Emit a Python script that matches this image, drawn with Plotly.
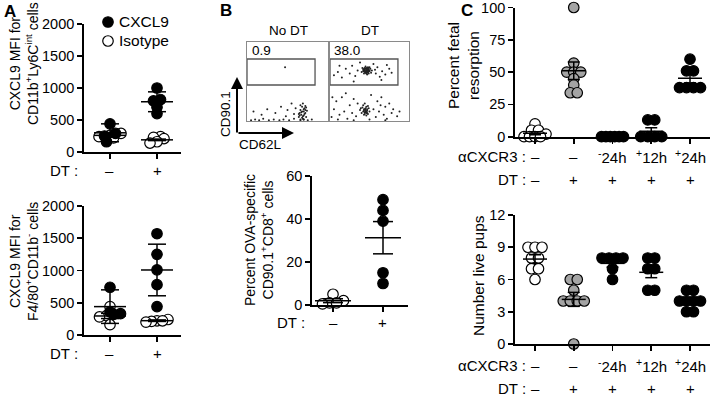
import plotly.graph_objects as go

W, H = 712, 403
FONT = "Liberation Sans, Arial, Helvetica, sans-serif"
GRAY = "#a4a4a4"

# ---------------- data ----------------
dt_groups = ["–", "+"]
# Panel A top: CXCL9 MFI for CD11b+Ly6Cint cells
a1_cxcl9 = [[440, 290, 250, 160], [1000, 820, 800, 700, 600]]
a1_iso = [[290, 260, 240, 220], [240, 230, 210, 160, 140]]
a1_cxcl9_mean = [300, 785]
a1_cxcl9_err = [140, 155]
a1_iso_mean = [260, 190]
a1_iso_err = [30, 12]
# Panel A bottom: CXCL9 MFI for F4/80+CD11b- cells
a2_cxcl9 = [[740, 360, 330, 320], [1570, 1250, 1010, 780, 440]]
a2_iso = [[440, 300, 280, 160], [240, 220, 220, 210, 200]]
a2_cxcl9_mean = [440, 1008]
a2_cxcl9_err = [260, 400]
a2_iso_mean = [295, 222]
a2_iso_err = [40, 12]
# Panel B flow plots (CD62L vs CD90.1, arbitrary 0-100 units)
flow_titles = ["No DT", "DT"]
flow_gate_pct = ["0.9", "38.0"]
nodt_x = [5, 10, 15, 20, 27, 33, 40, 45, 52, 58, 66, 70, 75, 80, 8, 18, 25, 35, 42, 48, 50, 55, 58, 60,
          64, 65, 66, 67, 68, 69, 70, 70, 71, 72, 73, 74, 66, 69, 72, 47,
          65, 67, 68, 70, 71, 73, 66, 69, 72, 68, 70, 64]
nodt_y = [1, 2, 1, 3, 1, 2, 1, 2, 1, 3, 1, 2, 1, 2, 12, 8, 15, 10, 18, 6, 14, 22, 9, 16,
          5, 10, 14, 8, 18, 3, 12, 7, 16, 10, 5, 13, 20, 22, 19, 68,
          7, 11, 4, 15, 9, 17, 2, 6, 14, 12, 2, 9]
dt_x = [40, 42, 43, 44, 45, 46, 46, 47, 48, 48, 49, 49, 50, 51, 52, 45, 47, 43, 50, 44, 41, 53, 46, 48, 47,
        44, 45, 46, 47, 48, 49, 45, 46, 47, 48, 42, 50, 43, 49, 46, 47, 44, 48,
        5, 10, 15, 20, 25, 28, 32, 35, 58, 60, 63, 66, 70, 75, 30, 55, 65, 72, 12, 38, 57, 78,
        38, 40, 41, 42, 43, 44, 45, 46, 47, 48, 49, 50, 42, 46, 44, 48, 39, 47,
        43, 44, 45, 46, 45, 44, 47, 43, 46, 45,
        2, 5, 8, 12, 15, 18, 22, 25, 28, 30, 33, 35, 55, 58, 60, 62, 65, 68, 70, 72, 75, 78, 80, 3, 20,
        52, 64, 10, 30, 50, 70, 85, 88]
dt_y = [62, 65, 60, 67, 63, 61, 66, 64, 62, 68, 60, 65, 63, 66, 61, 69, 59, 64, 68, 62, 67, 64, 64, 65, 62,
        64, 66, 63, 65, 64, 63, 61, 67, 66, 61, 63, 64, 66, 67, 60, 63, 65, 66,
        58, 62, 55, 66, 60, 70, 57, 64, 60, 68, 56, 63, 59, 66, 50, 72, 52, 71, 70, 74, 65, 61,
        14, 10, 17, 12, 8, 15, 11, 18, 13, 9, 16, 12, 20, 7, 22, 19, 16, 10,
        13, 11, 14, 12, 16, 9, 15, 15, 10, 12,
        5, 15, 25, 8, 30, 12, 3, 20, 10, 28, 6, 22, 15, 5, 25, 12, 30, 8, 18, 3, 22, 10, 15, 30, 35,
        33, 20, 2, 1, 2, 1, 6, 12]
# Panel B bottom: percent OVA-specific CD90.1+CD8+ cells
b_vals = [[5, 2, 1, 1, 0.5], [49, 44, 39, 15, 10]]
b_mean = [2.0, 31.3]
b_err = [0.9, 7.5]
# Panel C
c_cxcr3 = ["–", "–", "<sup>-</sup>24h", "<sup>+</sup>12h", "<sup>+</sup>24h"]
c_dt = ["–", "+", "+", "+", "+"]
c_fill = ["white", GRAY, "black", "black", "black"]
ct_vals = [[10, 5, 5, 2, 0, 0, 0, 0], [100, 57, 50, 50, 50, 45, 40, 34, 34], [0, 0, 0, 0, 0, 0],
           [13, 13, 0, 0, 0, 0], [60, 51, 51, 38, 38, 38, 38]]
ct_mean = [2.7, 51, 0, 4.3, 45.2]
ct_err = [1.2, 6.8, 0, 2.6, 3.6]
cb_vals = [[9, 9, 9, 8, 8, 7, 7, 6], [6, 6, 5, 4, 4, 4, 4, 0], [8, 8, 8, 8, 7, 6],
           [8, 8, 7, 7, 5, 5], [5, 5, 4, 4, 4, 4, 3, 3]]
cb_mean = [7.9, 4.15, 7.5, 6.67, 4.0]
cb_err = [0.4, 0.65, 0.35, 0.5, 0.3]


# ---------------- helpers ----------------
def px(x):
    return x / W


def py(y):
    return 1 - y / H


def swarm(vals, ypu, xpu, row_px=5.0, sp=7.0, maxw=22.0):
    idx = sorted(range(len(vals)), key=lambda i: vals[i])
    off = [0.0] * len(vals)
    rows = []
    for i in idx:
        if rows and (vals[i] - vals[rows[-1][0]]) * ypu < row_px:
            rows[-1].append(i)
        else:
            rows.append([i])
    for r in rows:
        n = len(r)
        if n > 1:
            s = min(sp, maxw / (n - 1))
            for k, i in enumerate(r):
                off[i] = (k - (n - 1) / 2) * s / xpu
    return off


fig = go.Figure()
annotations = []
shapes = []


def ann(text, x, y, size=14, xa="center", ya="middle", angle=0, **kw):
    annotations.append(dict(text=text, x=px(x), y=py(y), xref="paper", yref="paper",
                            xanchor=xa, yanchor=ya, textangle=angle, showarrow=False,
                            font=dict(family=FONT, size=size, color="black"), **kw))


def dot_axes(n, xdom, ydom, xr, yr, yticks):
    ax = dict(domain=[px(xdom[0]), px(xdom[1])], range=xr, showline=True, linecolor="black",
              linewidth=1.8, ticks="outside", ticklen=5, tickwidth=1.8, tickcolor="black",
              showgrid=False, zeroline=False, showticklabels=False,
              anchor="y" + ("" if n == 1 else str(n)))
    ay = dict(domain=[py(ydom[1]), py(ydom[0])], range=yr, showline=True, linecolor="black",
              linewidth=1.8, ticks="outside", ticklen=5, tickwidth=1.8, tickcolor="black",
              showgrid=False, zeroline=False, tickvals=yticks, ticklabeloverflow="allow",
              tickfont=dict(family=FONT, size=14.5, color="black"),
              anchor="x" + ("" if n == 1 else str(n)))
    return ax, ay


layout_axes = {}

# axis geometry (pixel positions)
A_X = (84, 181, 110, 47)
B_X = (312, 408, 333, 50)
C_X = (515, 710, 535, 38.75)
panels = {
    1: (A_X, (24, 152), [0, 2000], [0, 500, 1000, 1500, 2000]),
    2: (A_X, (206, 335), [0, 2000], [0, 500, 1000, 1500, 2000]),
    5: (B_X, (176, 305), [0, 60], [0, 20, 40, 60]),
    6: (C_X, (7.5, 136.7), [0, 100], [0, 25, 50, 75, 100]),
    7: (C_X, (215, 344), [0, 12], [0, 3, 6, 9, 12]),
}
scale = {}
for n, (xg, yg, yr, yt) in panels.items():
    L, R, c0, s = xg
    xr = [(L - c0) / s, (R - c0) / s]
    ax, ay = dot_axes(n, (L, R), yg, xr, yr, yt)
    ax["tickvals"] = [i for i in range(0, 6) if i <= xr[1]]
    key = "" if n == 1 else str(n)
    layout_axes["xaxis" + key] = ax
    layout_axes["yaxis" + key] = ay
    scale[n] = (s, (yg[1] - yg[0]) / (yr[1] - yr[0]))

# flow axes 3 and 4
for n, (x0, x1) in zip([3, 4], [(247, 328), (330, 409)]):
    key = str(n)
    common = dict(showline=True, mirror=True, linecolor="#8a8a8a", linewidth=1, ticks="",
                  showticklabels=False, showgrid=False, zeroline=False)
    layout_axes["xaxis" + key] = dict(domain=[px(x0), px(x1)], range=[0, 100], anchor="y" + key, **common)
    layout_axes["yaxis" + key] = dict(domain=[py(121), py(42)], range=[0, 100], anchor="x" + key, **common)
# overlay axis for legend symbols (pixel space)
layout_axes["xaxis8"] = dict(domain=[0, 1], range=[0, W], visible=False, anchor="y8")
layout_axes["yaxis8"] = dict(domain=[0, 1], range=[H, 0], visible=False, anchor="x8")


def mean_err_trace(n, means, errs, mw_px, cw_px):
    s, _ = scale[n]
    xs, ys = [], []
    for g, (m, e) in enumerate(zip(means, errs)):
        mw, cw = mw_px / s, cw_px / s
        xs += [g - mw, g + mw, None]
        ys += [m, m, None]
        if e > 0:
            xs += [g, g, None, g - cw, g + cw, None, g - cw, g + cw, None]
            ys += [m - e, m + e, None, m + e, m + e, None, m - e, m - e, None]
    key = "" if n == 1 else str(n)
    return go.Scatter(x=xs, y=ys, mode="lines", line=dict(color="black", width=1.5),
                      xaxis="x" + key, yaxis="y" + key, showlegend=False, cliponaxis=False,
                      hoverinfo="skip")


MS = 10.5


def add_points(n, xs, ys, fill, name):
    key = "" if n == 1 else str(n)
    fig.add_trace(go.Scatter(x=xs, y=ys, mode="markers", name=name,
                             marker=dict(size=MS, color=fill, line=dict(color="black", width=1.2)),
                             xaxis="x" + key, yaxis="y" + key, showlegend=False, cliponaxis=False))


# ---- Panel A ----
for n, cx, iso, cm, ce, im, ie in [(1, a1_cxcl9, a1_iso, a1_cxcl9_mean, a1_cxcl9_err, a1_iso_mean, a1_iso_err),
                                   (2, a2_cxcl9, a2_iso, a2_cxcl9_mean, a2_cxcl9_err, a2_iso_mean, a2_iso_err)]:
    s, ypu = scale[n]
    fx, fy, ox, oy = [], [], [], []
    for g in range(2):
        allv = cx[g] + iso[g]
        off = swarm(allv, ypu, s)
        k = len(cx[g])
        fx += [g + o for o in off[:k]]
        fy += cx[g]
        ox += [g + o for o in off[k:]]
        oy += iso[g]
    add_points(n, ox, oy, "white", "Isotype")
    add_points(n, fx, fy, "black", "CXCL9")
    fig.add_trace(mean_err_trace(n, cm, ce, 16, 9))
    fig.add_trace(mean_err_trace(n, im, ie, 16, 9))

# ---- Panel B flow ----
for n, xs, ys in [(3, nodt_x, nodt_y), (4, dt_x, dt_y)]:
    key = str(n)
    fig.add_trace(go.Scatter(x=xs, y=ys, mode="markers", marker=dict(size=2, color="#222"),
                             xaxis="x" + key, yaxis="y" + key, showlegend=False, hoverinfo="skip"))
    gx1 = 84 if n == 3 else 86
    shapes.append(dict(type="rect", xref="x" + key, yref="y" + key, x0=0, x1=gx1, y0=45.6, y1=78.5,
                       line=dict(color="#555", width=1.3)))

# ---- Panel B bottom ----
s, ypu = scale[5]
for g in range(2):
    off = swarm(b_vals[g], ypu, s)
    add_points(5, [g + o for o in off], b_vals[g], "white" if g == 0 else "black", "")
fig.add_trace(mean_err_trace(5, b_mean, b_err, 18, 10))

# ---- Panel C ----
for n, vals, means, errs in [(6, ct_vals, ct_mean, ct_err), (7, cb_vals, cb_mean, cb_err)]:
    s, ypu = scale[n]
    for g in range(5):
        off = swarm(vals[g], ypu, s)
        add_points(n, [g + o for o in off], vals[g], c_fill[g], "")
    fig.add_trace(mean_err_trace(n, means, errs, 12, 6))

# ---- legend (manual) ----
fig.add_trace(go.Scatter(x=[108, 108], y=[22, 41], mode="markers",
                         marker=dict(size=MS, color=["black", "white"], line=dict(color="black", width=1.2)),
                         xaxis="x8", yaxis="y8", showlegend=False, hoverinfo="skip"))
ann("CXCL9", 117, 22, size=15.5, xa="left")
ann("Isotype", 117, 41, size=15.5, xa="left")

# ---- text ----
ann("<b>A</b>", 10, 11, size=17)
ann("<b>B</b>", 226, 10, size=17)
ann("<b>C</b>", 467, 10, size=17)

ann("CXCL9 MFI for<br>CD11b<sup>+</sup>Ly6C<sup>int</sup> cells", 24, 64, size=14, angle=-90)
ann("CXCL9 MFI for<br>F4/80<sup>+</sup>CD11b<sup>-</sup> cells", 24, 262, size=14, angle=-90)
ann("Percent OVA-specific<br>CD90.1<sup>+</sup>CD8<sup>+</sup> cells", 259, 240, size=14, angle=-90)
ann("Percent fetal<br>resorption", 463, 66, size=15.5, angle=-90)
ann("Number live pups", 478, 276, size=15.5, angle=-90)

for yrow in [170, 353]:
    ann("DT :", 80, yrow, size=15, xa="right")
    for g, lab in enumerate(dt_groups):
        ann(lab, 110 + 47 * g, yrow, size=15)
ann("DT :", 307, 322, size=15, xa="right")
for g, lab in enumerate(dt_groups):
    ann(lab, 333 + 50 * g, 322, size=15)

for yc, yd in [(156, 179), (365, 388)]:
    ann("αCXCR3 :", 528, yc, size=15, xa="right")
    ann("DT :", 528, yd, size=15, xa="right")
    for g in range(5):
        ann(c_cxcr3[g], 535 + 38.75 * g, yc, size=15)
        ann(c_dt[g], 535 + 38.75 * g, yd, size=15)

# flow labels
ann(flow_titles[0], 288, 30, size=13.5)
ann(flow_titles[1], 370, 30, size=13.5)
ann(flow_gate_pct[0], 250, 51, size=13.5, xa="left")
ann(flow_gate_pct[1], 332, 51, size=13.5, xa="left")
ann("CD90.1", 225, 114, size=13.5, angle=-90)
ann("CD62L", 237, 145, size=13.5, xa="left")
# axis arrows
annotations.append(dict(x=px(237), y=py(77), xref="paper", yref="paper", ax=0, ay=57, text="",
                        showarrow=True, arrowhead=2, arrowsize=1.2, arrowwidth=2, arrowcolor="black"))
annotations.append(dict(x=px(294), y=py(133), xref="paper", yref="paper", ax=-57, ay=0, text="",
                        showarrow=True, arrowhead=2, arrowsize=1.2, arrowwidth=2, arrowcolor="black"))

fig.update_layout(width=W, height=H, margin=dict(l=0, r=0, t=0, b=0, autoexpand=False),
                  paper_bgcolor="white",
                  plot_bgcolor="rgba(0,0,0,0)", showlegend=False, annotations=annotations,
                  shapes=shapes, font=dict(family=FONT, color="black"), **layout_axes)
fig.write_html("out.html", config={"displayModeBar": False, "staticPlot": True},
               post_script="document.body.style.margin='0px';document.body.style.padding='0px';"
                           "document.body.style.overflow='hidden';")
